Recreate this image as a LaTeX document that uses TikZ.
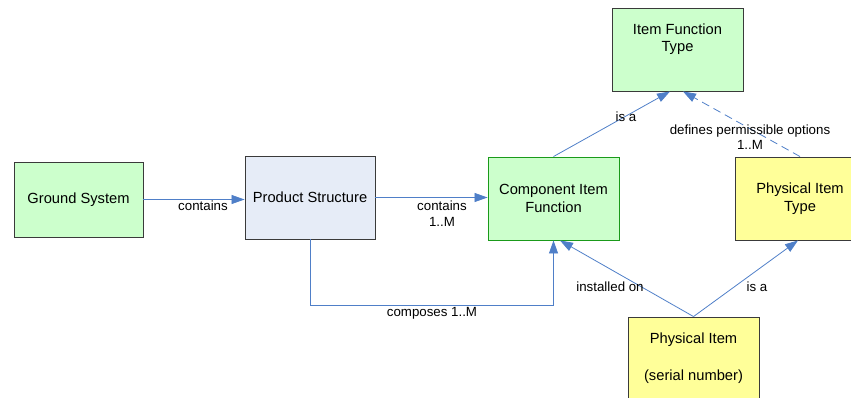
\documentclass[tikz,border=0pt]{standalone}
\usepackage{fontspec}
\setmainfont{Liberation Sans}
\usetikzlibrary{arrows.meta}
\definecolor{boxgreen}{HTML}{CCFFCC}
\definecolor{boxblue}{HTML}{E6ECF7}
\definecolor{boxyellow}{HTML}{FFFF99}
\definecolor{edgegray}{HTML}{3A3A3A}
\definecolor{edgegreen}{HTML}{1A9A1A}
\definecolor{linkblue}{HTML}{4F7FC8}
\tikzset{
  entity/.style={draw=edgegray, line width=0.9pt, minimum width=130pt, minimum height=83pt,
                 inner sep=0pt, align=center, font=\fontsize{14.7}{17.5}\selectfont},
  entitytext/.style={inner sep=0pt, align=center, font=\fontsize{14.7}{17.5}\selectfont},
  link/.style={draw=linkblue, line width=0.8pt, -{Triangle[length=13pt,width=9pt]}},
  linklabel/.style={inner sep=0pt, align=center, font=\fontsize{13.3}{15.5}\selectfont},
}
\begin{document}
\begin{tikzpicture}[x=1pt,y=-1pt]
\useasboundingbox (0,0) rectangle (851,398);

% entities
\node[entity, fill=boxgreen, minimum width=129pt, minimum height=75pt] (gs) at (78.5,199.5) {Ground System};
\node[entity, fill=boxblue] (ps) at (310,197.5) {Product Structure};
\node[entity, fill=boxgreen, draw=edgegreen, minimum width=131pt] (cif) at (553.5,198.5) {Component Item\\Function};
\node[entity, fill=boxgreen, minimum width=131pt] (ift) at (677.5,49.5) {};
\node[entitytext] (iftt) at (677.5,39) {Item Function\\Type};
\node[entity, fill=boxyellow] (pit) at (800,198.5) {Physical Item\\Type};
\node[entity, fill=boxyellow, minimum width=131pt] (pi) at (693.5,358.5) {};
\node[entitytext] (pit2) at (693.5,358.5) {Physical Item\\[19.5pt](serial number)};

% relations
\draw[link] (gs.east) -- (gs.east -| ps.west);
\draw[link] (ps.east) -- (ps.east -| cif.west);
\draw[link] (cif.north) -- ([xshift=-7.5pt]ift.south);
\draw[link, dash pattern=on 8pt off 5pt] (pit.north) -- ([xshift=5.5pt]ift.south);
\coordinate (c1) at (310,305);
\coordinate (c2) at (553.5,305);
\draw[link] (ps.south) -- (c1) -- (c2) -- (cif.south);
\draw[link] (pi.north) -- ([xshift=6.5pt]cif.south);
\draw[link] (pi.north) -- ([xshift=-2pt]pit.south);

% relation labels
\node[linklabel] (l1) at (203,206) {contains};
\node[linklabel] (l2) at (442,213.5) {contains\\1..M};
\node[linklabel] (l3) at (626,117) {is a};
\node[linklabel] (l4) at (750,137) {defines permissible options\\1..M};
\node[linklabel] (l5) at (432,313) {composes 1..M};
\node[linklabel] (l6) at (610,287) {installed on};
\node[linklabel] (l7) at (757,287) {is a};
\end{tikzpicture}
\end{document}
